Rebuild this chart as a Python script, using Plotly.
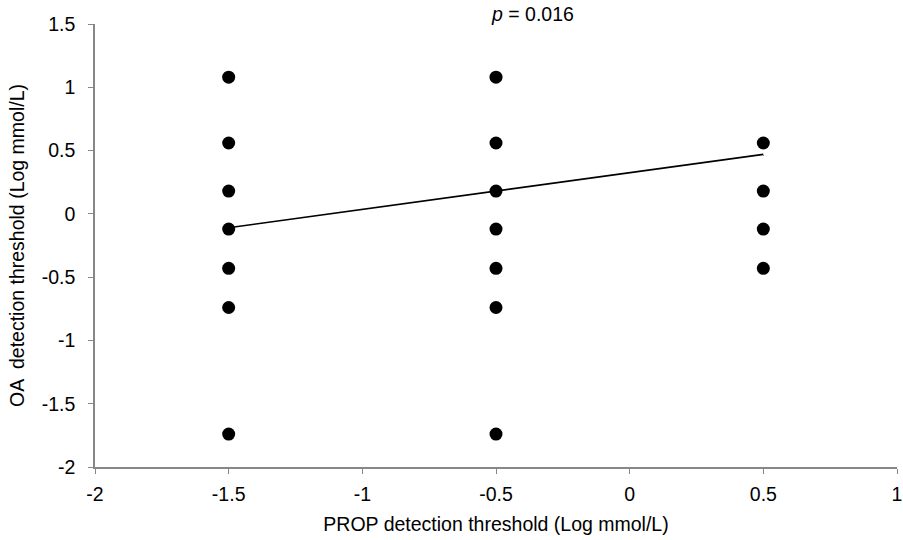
import plotly.graph_objects as go

# PROP detection threshold (x) and OA detection threshold (y), log mmol/L
prop_x = [-1.5, -1.5, -1.5, -1.5, -1.5, -1.5, -1.5,
          -0.5, -0.5, -0.5, -0.5, -0.5, -0.5, -0.5,
          0.5, 0.5, 0.5, 0.5]
oa_y = [1.08, 0.56, 0.18, -0.12, -0.43, -0.74, -1.74,
        1.08, 0.56, 0.18, -0.12, -0.43, -0.74, -1.74,
        0.56, 0.18, -0.12, -0.43]

# Linear trend line endpoints
trend_x = [-1.5, 0.5]
trend_y = [-0.11, 0.47]

x_ticks = [-2, -1.5, -1, -0.5, 0, 0.5, 1]
y_ticks = [-2, -1.5, -1, -0.5, 0, 0.5, 1, 1.5]

font_family = "Liberation Sans, Arial, sans-serif"
axis_color = "#878787"
fs = 19.5

fig = go.Figure()
fig.add_trace(go.Scatter(
    x=prop_x, y=oa_y, mode="markers",
    marker=dict(color="black", size=13),
    showlegend=False, hoverinfo="x+y",
))
fig.add_trace(go.Scatter(
    x=trend_x, y=trend_y, mode="lines",
    line=dict(color="black", width=1.6),
    showlegend=False,
))

fig.update_layout(
    width=903, height=540,
    margin=dict(l=95, r=6, t=24, b=73),
    paper_bgcolor="white", plot_bgcolor="white",
    font=dict(family=font_family, size=fs, color="black"),
    xaxis=dict(
        range=[-2, 1], tickvals=x_ticks,
        ticktext=[str(v) for v in x_ticks],
        showgrid=False, zeroline=False, automargin=False,
        showline=True, linecolor=axis_color, linewidth=1.5,
        ticks="outside", ticklen=5, tickcolor=axis_color,
        tickfont=dict(size=fs), ticklabeloverflow="allow",
        ticklabelstandoff=4,
        title=dict(text="PROP detection threshold (Log mmol/L)",
                   font=dict(size=fs), standoff=13),
    ),
    yaxis=dict(
        range=[-2, 1.5], tickvals=y_ticks,
        ticktext=[str(v) for v in y_ticks],
        showgrid=False, zeroline=False, automargin=False,
        showline=True, linecolor=axis_color, linewidth=1.5,
        ticks="outside", ticklen=5, tickcolor=axis_color,
        tickfont=dict(size=fs), ticklabeloverflow="allow",
        ticklabelstandoff=9,
        title=dict(text="OA  detection threshold (Log mmol/L)",
                   font=dict(size=fs), standoff=12),
    ),
    annotations=[dict(
        text="<i>p</i> = 0.016", x=0.546, y=1,
        xref="paper", yref="paper", yshift=10, yanchor="middle",
        showarrow=False, font=dict(size=fs),
    )],
)

fig.write_html("out.html",
               config={"displayModeBar": False},
               post_script="document.body.style.margin='0';document.body.style.padding='0';")
